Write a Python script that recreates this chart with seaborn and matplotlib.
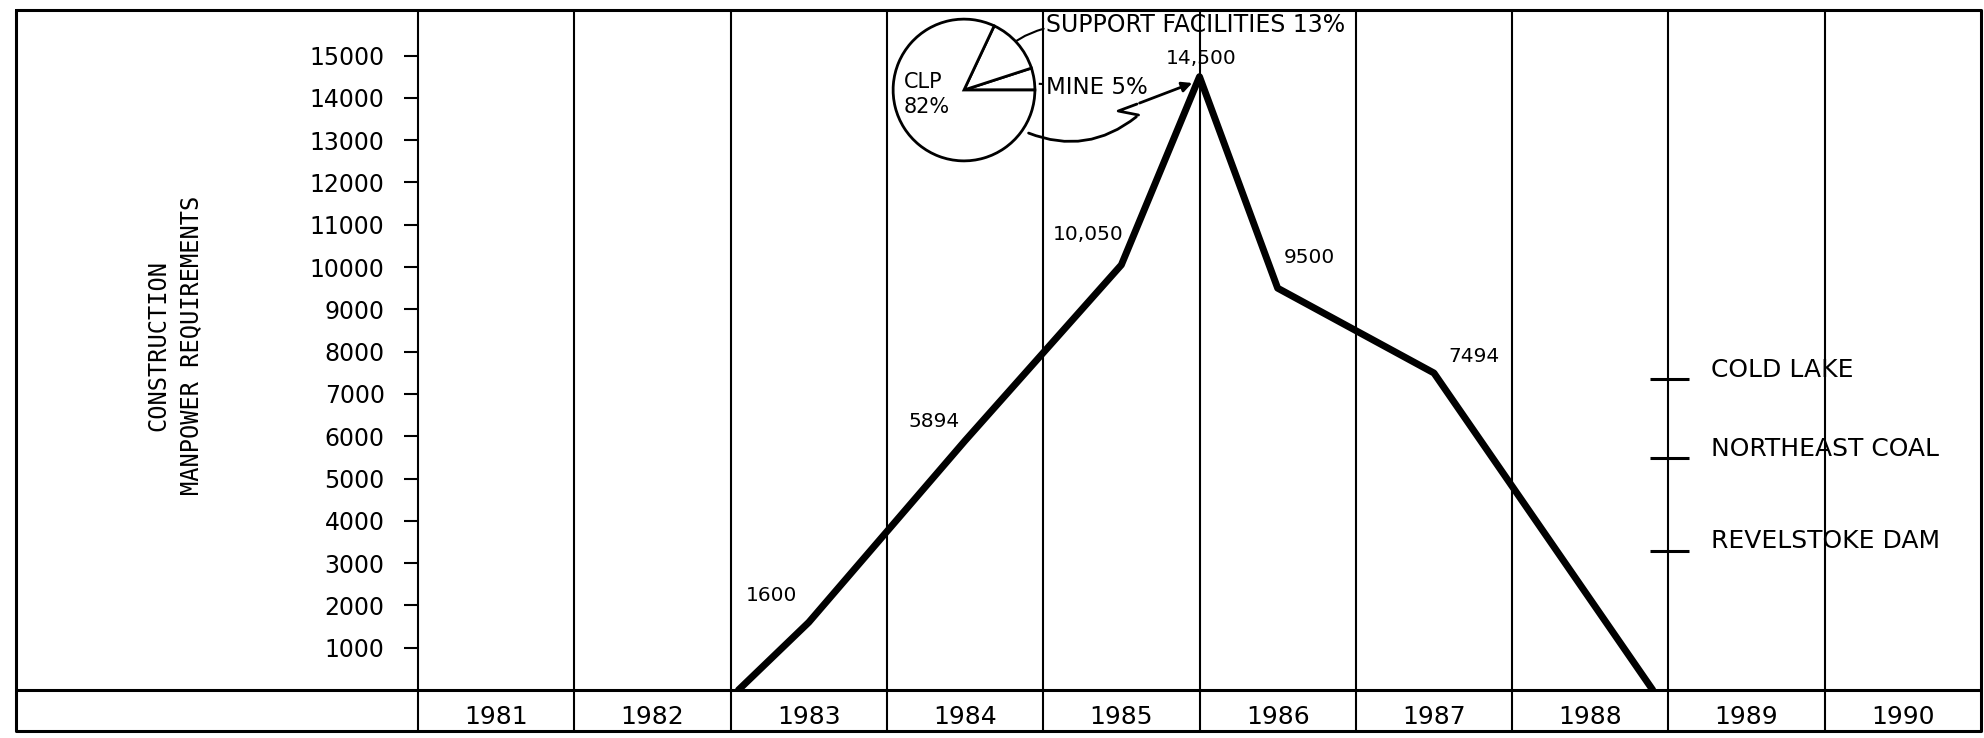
import matplotlib
matplotlib.use('Agg')
import matplotlib.pyplot as plt
import seaborn as sns

sns.set_theme(style="white")
plt.rcParams['font.family'] = ['DejaVu Sans']
plt.rcParams['text.color'] = 'black'
plt.rcParams['xtick.color'] = 'black'
plt.rcParams['ytick.color'] = 'black'

# manpower curve (x in years, column of a year is centred on the year)
years = [1982.55, 1983, 1984, 1985, 1985.5, 1986, 1987, 1988.4]
manpower = [0, 1600, 5894, 10050, 14500, 9500, 7494, 0]
point_labels = ['', '1600', '5894', '10,050', '14,500', '9500', '7494', '']

year_ticks = [1981, 1982, 1983, 1984, 1985, 1986, 1987, 1988, 1989, 1990]
y_ticks = [1000, 2000, 3000, 4000, 5000, 6000, 7000, 8000,
           9000, 10000, 11000, 12000, 13000, 14000, 15000]

# peak manpower split
pie_labels = ['MINE', 'SUPPORT FACILITIES', 'CLP']
pie_shares = [5, 13, 82]

# other projects marked on the right
reference_projects = ['COLD LAKE', 'NORTHEAST COAL', 'REVELSTOKE DAM']
reference_peaks = [7350, 5480, 3290]

# label offsets (points) for the point labels
label_offsets = [(0, 0), (-27, 19), (-22, 14), (-24, 22), (1, 13), (23, 22), (29, 12), (0, 0)]

W, H = 1984, 738
fig = plt.figure(figsize=(W / 100, H / 100), dpi=100)

# background frame (table look)
bg = fig.add_axes([0, 0, 1, 1], zorder=0)
bg.set_xlim(0, W)
bg.set_ylim(H, 0)
bg.axis('off')
bg.plot([16, 1981, 1981, 16, 16], [10, 10, 731, 731, 10], color='black', lw=2.2)
bg.plot([16, 1981], [690, 690], color='black', lw=2.2)

# main chart
ax = fig.add_axes([418 / W, 48 / H, 1563 / W, 680 / H], zorder=1)
ax.set_facecolor('none')
sns.lineplot(x=years, y=manpower, ax=ax, color='black', lw=5, sort=False)
ax.set_xlim(1980.5, 1990.5)
ax.set_ylim(0, 16076)

# column dividers (the last one is the frame itself)
bounds = [y - 0.5 for y in year_ticks]
ax.vlines(bounds, -0.06, 1, transform=ax.get_xaxis_transform(),
          colors='black', lw=1.5, clip_on=False)

ax.set_yticks(y_ticks)
ax.set_yticklabels([str(v) for v in y_ticks])
ax.set_xticks(year_ticks)
ax.set_xticklabels([str(y) for y in year_ticks])
ax.tick_params(axis='y', left=True, direction='out', length=10, width=1.5,
               pad=14, labelsize=17, colors='black')
ax.tick_params(axis='x', bottom=False, length=0, pad=11, labelsize=18, colors='black')
for s in ax.spines.values():
    s.set_visible(False)
ax.set_xlabel('')
ax.set_ylabel('')

# point labels
for x, y, lab, off in zip(years, manpower, point_labels, label_offsets):
    if lab:
        ax.annotate(lab, (x, y), xytext=off, textcoords='offset points',
                    ha='center', va='center', fontsize=14.5, color='black')

# reference projects
ax.hlines(reference_peaks, 1988.38, 1988.63, colors='black', lw=2.2)
for name, v in zip(reference_projects, reference_peaks):
    ax.text(1988.77, v + 60, name, ha='left', va='baseline', fontsize=18, color='black')

# pie callout texts and arrows
ax.text(1984.52, 15721, 'SUPPORT FACILITIES 13%', ha='left', va='center',
        fontsize=17, color='black')
ax.text(1984.52, 14232, 'MINE 5%', ha='left', va='center', fontsize=16.5, color='black')
ax.annotate('', xy=(1984.20, 14941), xytext=(1984.52, 15650),
            arrowprops=dict(arrowstyle='-|>', color='black', lw=1.5,
                            connectionstyle='arc3,rad=0.15', mutation_scale=12))
ax.plot([1984.26, 1984.50], [14373, 14326], color='black', lw=1.5, ls='--')
ax.annotate('', xy=(1985.11, 13593), xytext=(1984.39, 13191),
            arrowprops=dict(arrowstyle='-', color='black', lw=2,
                            connectionstyle='arc3,rad=0.3'))
ax.plot([1985.11, 1984.98, 1985.10], [13593, 13688, 13853], color='black', lw=2)
ax.annotate('', xy=(1985.47, 14374), xytext=(1985.10, 13853),
            arrowprops=dict(arrowstyle='-|>', color='black', lw=2, mutation_scale=15))

# y label
fig.text(175 / W, 1 - 345 / H, 'CONSTRUCTION\nMANPOWER REQUIREMENTS', rotation=90,
         ha='center', va='center', family='DejaVu Sans Mono', fontsize=17,
         linespacing=1.45, multialignment='center', color='black')

# inset pie
pax = fig.add_axes([891 / W, (H - 163) / H, 146 / W, 146 / H], zorder=2)
pax.pie(pie_shares, startangle=0, counterclock=True, colors=['white'] * 3,
        wedgeprops=dict(edgecolor='black', linewidth=2))
pax.set_xlim(-1.03, 1.03)
pax.set_ylim(-1.03, 1.03)
pax.text(-0.52, -0.06, 'CLP\n82%', ha='center', va='center', fontsize=15,
         linespacing=1.3, multialignment='left', color='black')

fig.savefig('out.png', dpi=100, facecolor='white')
